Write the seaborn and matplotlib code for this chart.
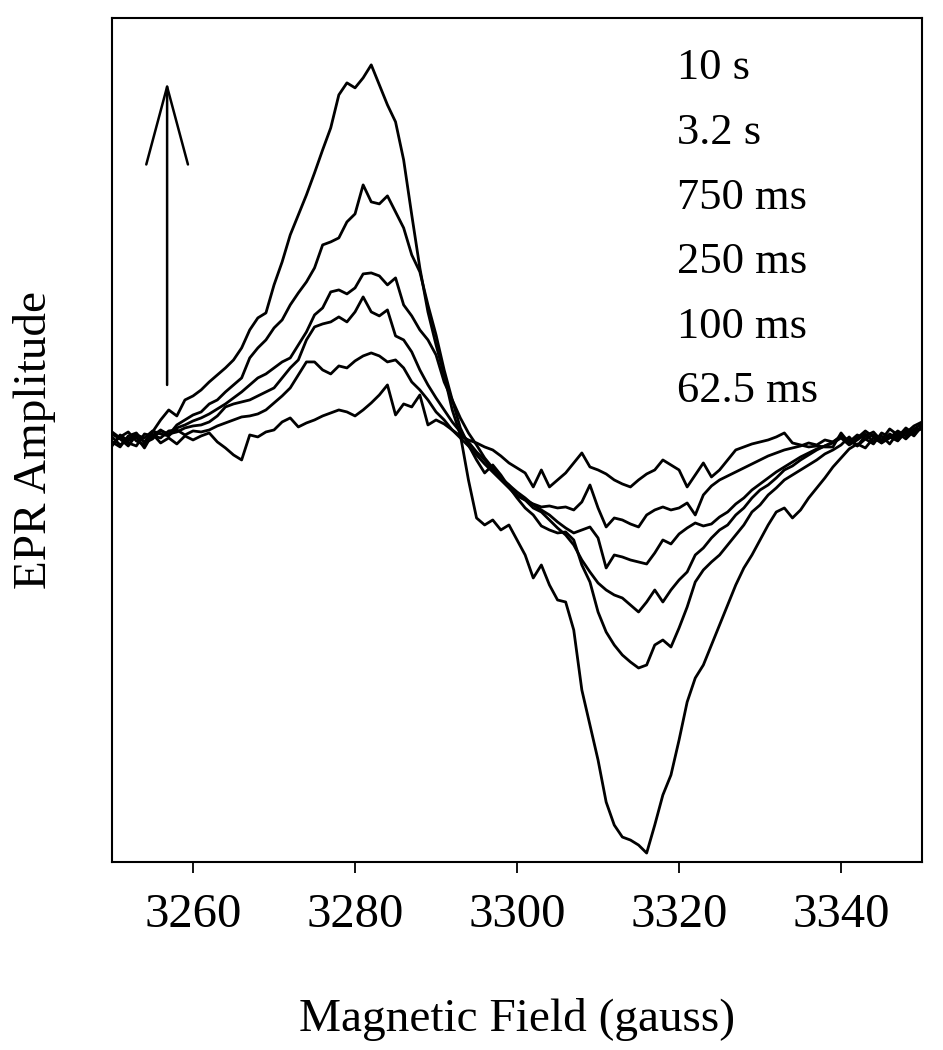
import numpy as np
import pandas as pd
import matplotlib
matplotlib.use("Agg")
import matplotlib.pyplot as plt
import seaborn as sns

# field axis (gauss), one reading per gauss
field = np.arange(3250, 3351)

# EPR traces (arbitrary units)
amp_10s = [3, -5, 1, 6, -2, 8, 20, 30, 24, 40,
           44, 50, 58, 65, 72, 80, 92, 110, 122, 127,
           155, 178, 205, 225, 245, 267, 290, 312, 345, 357,
           352, 362, 375, 355, 335, 318, 280, 225, 172, 128,
           95, 65, 30, 5, -40, -78, -85, -80, -90, -85,
           -100, -115, -138, -125, -145, -160, -162, -190, -250, -285,
           -320, -362, -385, -397, -400, -405, -413, -385, -355, -335,
           -300, -262, -238, -225, -205, -185, -165, -145, -128, -115,
           -100, -85, -72, -68, -78, -70, -58, -48, -38, -27,
           -18, -9, -4, -8, 2, -3, 6, 1, 10, 4,
           14]
amp_3_2s = [-4, 3, 8, -1, -5, 4, 10, 5, 15, 20,
            25, 28, 36, 40, 48, 55, 62, 82, 92, 100,
            112, 120, 135, 147, 158, 172, 195, 198, 202, 218,
            226, 255, 238, 236, 244, 228, 212, 185, 168, 135,
            105, 70, 40, 12, -5, -20, -33, -25, -35, -47,
            -58, -68, -75, -86, -90, -93, -92, -100, -125, -142,
            -172, -192, -205, -215, -222, -228, -225, -205, -200, -207,
            -188, -167, -142, -130, -122, -115, -105, -95, -85, -72,
            -65, -55, -48, -40, -35, -30, -25, -20, -14, -10,
            -5, 3, -6, 1, 5, -3, 2, 9, 4, 11,
            16]
amp_750ms = [6, 1, -6, 5, 2, 9, 6, 4, 12, 15,
             19, 22, 26, 31, 36, 42, 48, 55, 62, 66,
             72, 78, 82, 95, 108, 125, 132, 148, 150, 146,
             152, 166, 167, 164, 155, 162, 135, 124, 110, 100,
             85, 58, 40, 22, 7, -5, -18, -28, -38, -45,
             -55, -60, -68, -72, -80, -88, -95, -105, -120, -132,
             -143, -150, -155, -158, -165, -172, -162, -150, -162, -150,
             -140, -132, -115, -108, -98, -90, -85, -75, -68, -58,
             -50, -45, -38, -30, -26, -20, -15, -10, -6, -3,
             2, -5, 0, 6, -2, 4, -4, 7, 1, 9,
             11]
amp_250ms = [-2, -7, 4, 7, -3, 1, 9, 6, 8, 12,
             14, 15, 18, 24, 33, 36, 38, 40, 44, 48,
             52, 62, 72, 80, 100, 113, 116, 118, 123, 118,
             128, 143, 128, 124, 130, 104, 100, 88, 70, 55,
             42, 30, 18, 8, -2, -12, -20, -30, -38, -45,
             -52, -58, -65, -70, -75, -82, -88, -93, -90, -87,
             -98, -128, -115, -117, -120, -122, -124, -113, -100, -104,
             -94, -88, -83, -86, -84, -77, -72, -64, -58, -50,
             -44, -38, -32, -27, -22, -17, -13, -9, -6, -2,
             3, 0, -6, 4, 8, -1, 5, 3, 12, 6,
             13]
amp_100ms = [8, 2, -3, -6, 6, 4, 2, 9, 10, 5,
             9, 8, 10, 14, 17, 20, 23, 24, 26, 30,
             37, 44, 52, 65, 78, 78, 70, 66, 74, 72,
             79, 84, 87, 84, 78, 80, 72, 58, 50, 40,
             28, 20, 10, 2, -6, -15, -24, -32, -40, -48,
             -56, -60, -64, -67, -66, -68, -67, -70, -62, -45,
             -68, -87, -78, -80, -84, -87, -75, -70, -67, -70,
             -68, -63, -75, -55, -46, -40, -36, -32, -28, -24,
             -20, -16, -13, -10, -8, -6, -3, -5, 0, -2,
             4, -2, 5, 1, -4, 7, 3, -1, 8, 10,
             12]
amp_62_5ms = [-6, 5, -1, 3, -8, 6, -3, 2, -4, 4,
              0, 4, 7, -2, -8, -15, -20, 5, 3, 8,
              10, 18, 22, 13, 17, 20, 24, 27, 30, 28,
              24, 30, 37, 45, 55, 25, 36, 33, 45, 15,
              20, 16, 10, 4, 0, -3, -7, -10, -16, -23,
              -28, -33, -47, -30, -47, -40, -33, -23, -13, -27,
              -30, -34, -40, -44, -47, -40, -34, -30, -20, -25,
              -30, -47, -35, -23, -37, -30, -20, -10, -7, -4,
              -2, 0, 3, 7, -3, -5, -7, -6, -7, -7,
              7, -3, 2, 9, 3, 0, 11, 5, 7, 14,
              18]

labels = ["10 s", "3.2 s", "750 ms", "250 ms", "100 ms", "62.5 ms"]
traces = [amp_10s, amp_3_2s, amp_750ms, amp_250ms, amp_100ms, amp_62_5ms]

df = pd.concat([pd.DataFrame({"field": field, "amp": a, "time": lab})
                for a, lab in zip(traces, labels)], ignore_index=True)

sns.set_theme(style="white")
plt.rcParams["font.family"] = ["Liberation Serif", "DejaVu Serif"]
plt.rcParams["text.color"] = "black"
plt.rcParams["axes.labelcolor"] = "black"

fig = plt.figure(figsize=(9.43, 10.5), dpi=100)
ax = fig.add_axes([0.1188, 0.179, 0.859, 0.804])

sns.lineplot(data=df, x="field", y="amp", units="time", estimator=None,
             color="black", lw=2.0, legend=False, ax=ax)

ax.set_xlim(3250, 3350)
ax.set_ylim(-422, 422)
ax.set_xticks([3260, 3280, 3300, 3320, 3340])
ax.set_yticks([])
ax.tick_params(axis="x", bottom=True, direction="out", length=8, width=1.3,
               pad=14, labelsize=35, colors="black")
for s in ax.spines.values():
    s.set_color("black")
    s.set_linewidth(1.5)

ax.set_xlabel("Magnetic Field (gauss)", fontsize=34, labelpad=44, color="black")
ax.set_ylabel("EPR Amplitude", fontsize=34, labelpad=40, color="black")

# time labels stacked at upper right
for i, lab in enumerate(labels):
    ax.text(0.698, 0.927 - i * 0.0765, lab, transform=ax.transAxes,
            fontsize=32, va="baseline", ha="left", color="black")

# arrow showing increasing time
ax.annotate("", xy=(3256.8, 358), xytext=(3256.8, 55),
            arrowprops=dict(arrowstyle="->,head_length=5.6,head_width=1.5",
                            lw=1.8, color="black", mutation_scale=10,
                            shrinkA=0, shrinkB=0))

fig.savefig("out.png", dpi=100)
